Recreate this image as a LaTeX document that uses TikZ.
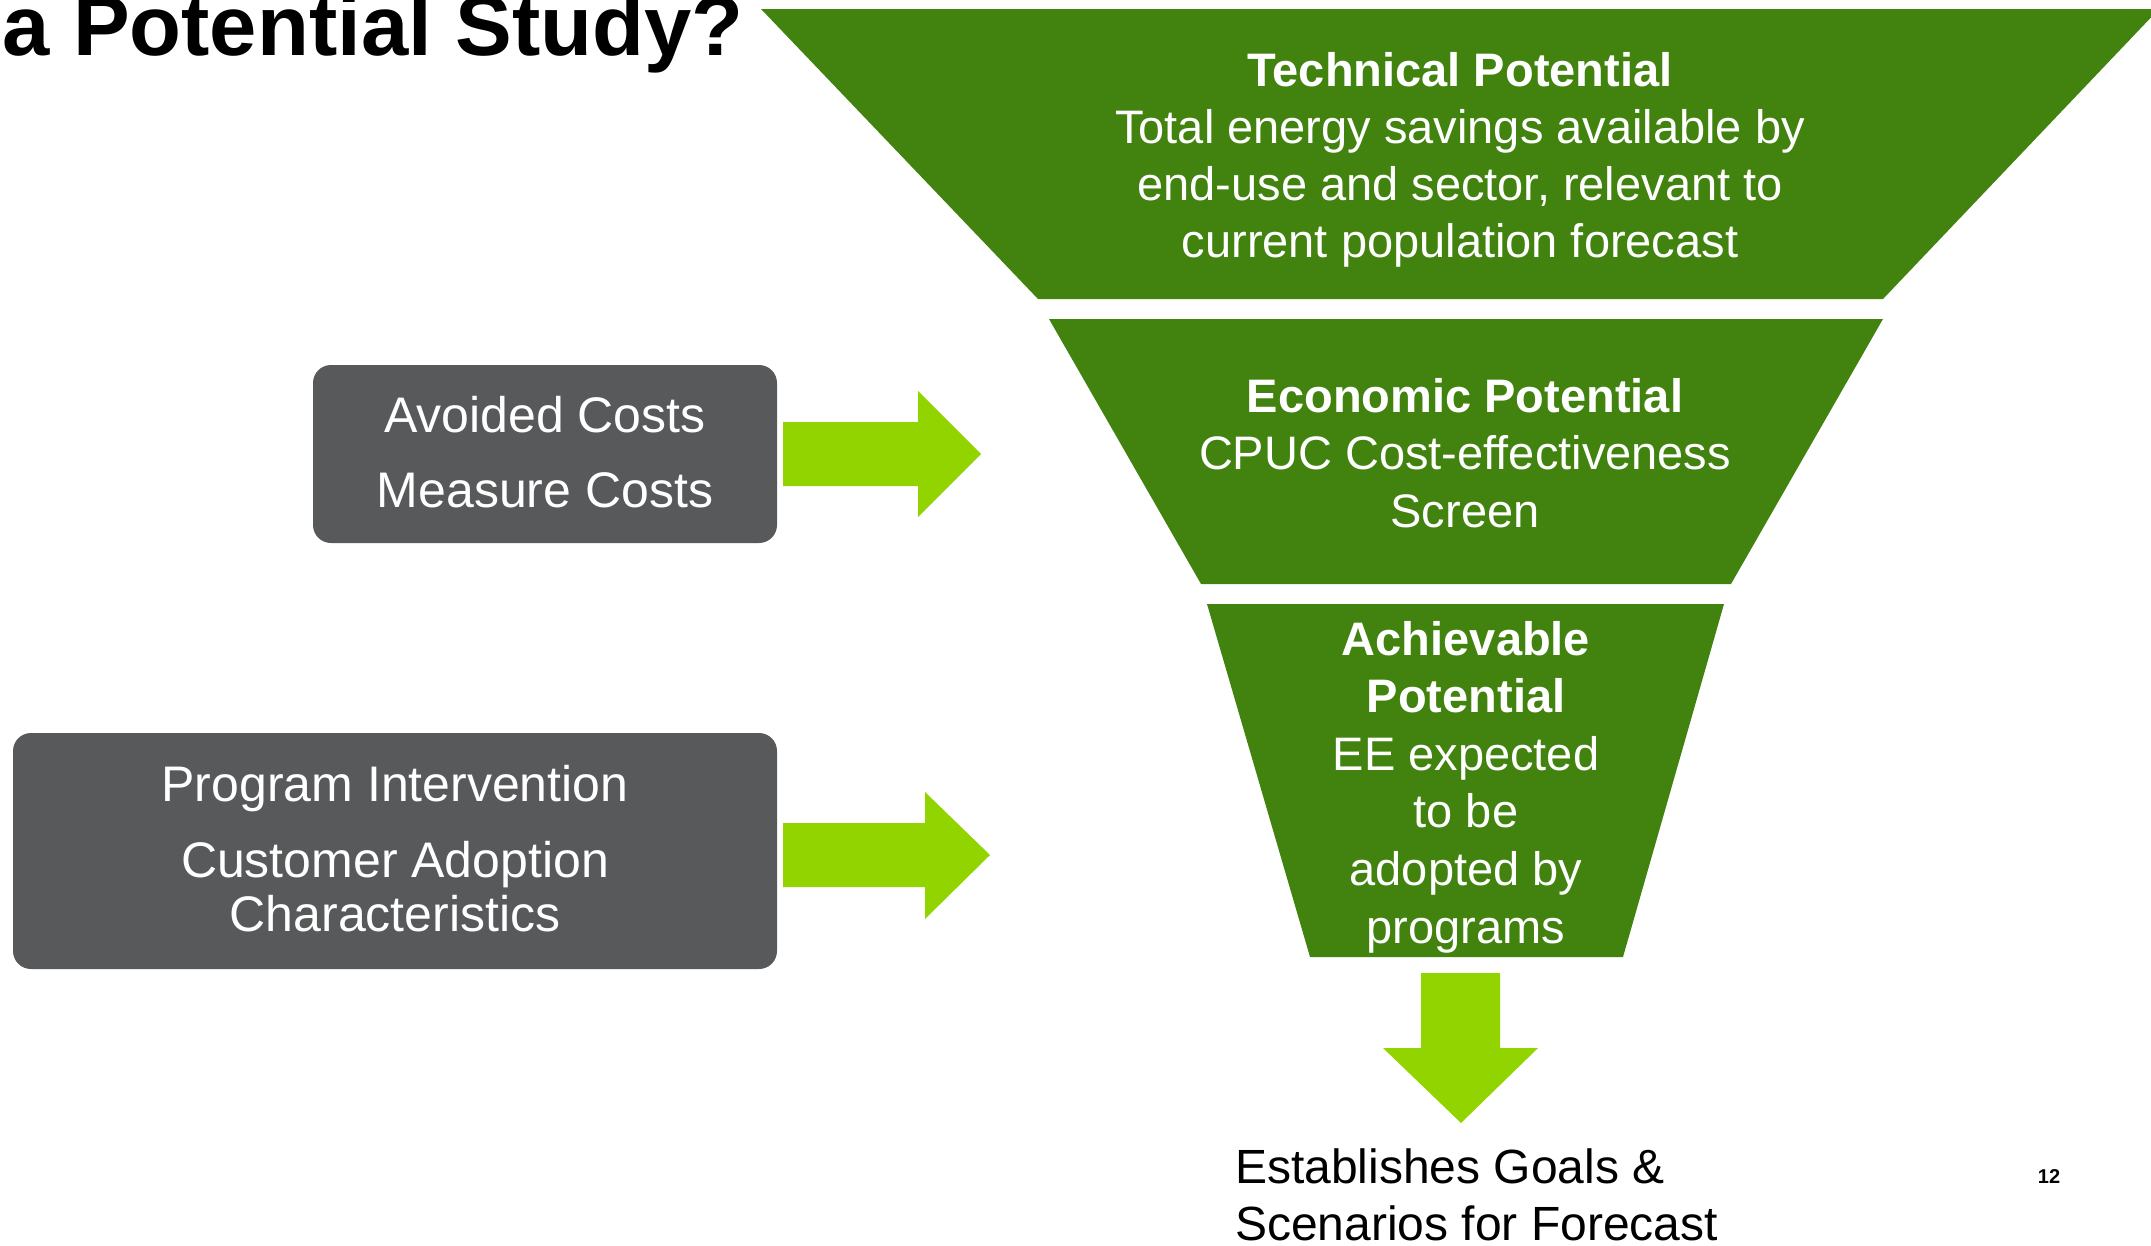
\documentclass[tikz,border=0pt]{standalone}
\usepackage{fontspec}
\setmainfont{Liberation Sans}
\usetikzlibrary{calc}
\definecolor{dkgreen}{RGB}{65,131,14}
\definecolor{ltgreen}{RGB}{146,212,0}
\definecolor{boxgrey}{RGB}{88,89,91}
\begin{document}
\begin{tikzpicture}[x=1pt,y=-1pt,
  trap/.style={fill=dkgreen},
  blockarrow/.style={fill=ltgreen},
  greybox/.style={fill=boxgrey, rounded corners=18pt, inner sep=0pt, draw=none},
  wtxt/.style={inner sep=0pt, text=white, anchor=base},
  btxt/.style={inner sep=0pt, text=black},
]
\useasboundingbox (0,0) rectangle (2151,1245);

% title (cut at top edge)
\node[btxt, anchor=base west] (title) at (2,55)
  {\fontsize{85}{95}\selectfont\bfseries a Potential Study?};

% funnel
\fill[trap] (761,9) -- (2159,9) -- (1883,299) -- (1038,299) -- cycle;
\fill[trap] (1049,319) -- (1883,319) -- (1731,584) -- (1201,584) -- cycle;
\fill[trap] (1207,604) -- (1724,604) -- (1623,957) -- (1310,957) -- cycle;

\node[wtxt] (tech) at (1460,86) {\fontsize{47}{57.3}\selectfont
  \begin{tabular}[t]{@{}c@{}}\textbf{Technical Potential}\\
  Total energy savings available by\\
  end-use and sector, relevant to\\
  current population forecast\end{tabular}};

\node[wtxt] (econ) at (1465,412) {\fontsize{47}{57.5}\selectfont
  \begin{tabular}[t]{@{}c@{}}\textbf{Economic Potential}\\
  CPUC Cost-effectiveness\\
  Screen\end{tabular}};

\node[wtxt] (ach) at (1466,655) {\fontsize{47}{57.6}\selectfont
  \begin{tabular}[t]{@{}c@{}}\textbf{Achievable}\\
  \textbf{Potential}\\
  EE expected\\
  to be\\
  adopted by\\
  programs\end{tabular}};

% grey input boxes
\node[greybox, minimum width=464pt, minimum height=178pt] (b1) at (545,454) {};
\node[greybox, minimum width=764pt, minimum height=236pt] (b2) at (395,851) {};

\node[wtxt] (b1t) at (545,432) {\fontsize{50}{54}\selectfont
  \begin{tabular}[t]{@{}c@{}}Avoided Costs\\[21pt]
  Measure Costs\end{tabular}};

\node[wtxt] (b2t) at (395,801) {\fontsize{50}{54}\selectfont
  \begin{tabular}[t]{@{}c@{}}Program Intervention\\[22pt]
  Customer Adoption\\
  Characteristics\end{tabular}};

% block arrows
\coordinate (a1s) at ($(b1.east)+(6,0)$);
\coordinate (a1t) at (981,454);
\fill[blockarrow] ($(a1s)+(0,-32)$) -- (918,422) -- (918,391) -- (a1t)
  -- (918,517) -- (918,486) -- ($(a1s)+(0,32)$) -- cycle;

\coordinate (a2s) at ($(b2.east)+(6,4)$);
\coordinate (a2t) at (990,855);
\fill[blockarrow] ($(a2s)+(0,-32)$) -- (925,823) -- (925,792) -- (a2t)
  -- (925,919) -- (925,887) -- ($(a2s)+(0,32)$) -- cycle;

\coordinate (a3s) at (1461,973);
\coordinate (a3t) at (1461,1123);
\fill[blockarrow] ($(a3s)+(-40,0)$) -- ($(a3s)+(39,0)$) -- (1500,1048) -- (1538,1048)
  -- (a3t) -- (1383,1048) -- (1421,1048) -- cycle;

% outcome
\node[btxt, anchor=base west] (goal) at (1235,1183) {\fontsize{48}{57}\selectfont
  \begin{tabular}[t]{@{}l@{}}Establishes Goals \&\\
  Scenarios for Forecast\end{tabular}};

\node[btxt, anchor=base] (pnum) at (2049,1183) {\fontsize{20}{24}\selectfont\bfseries 12};
\end{tikzpicture}
\end{document}
